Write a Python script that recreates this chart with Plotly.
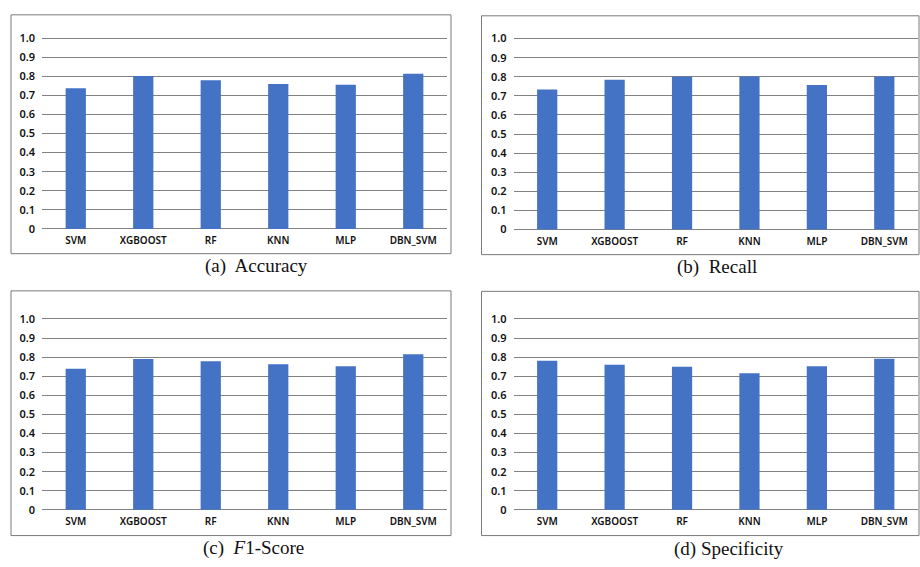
import plotly.graph_objects as go

# Model comparison across four evaluation metrics
models = ["SVM", "XGBOOST", "RF", "KNN", "MLP", "DBN_SVM"]
accuracy = [0.737, 0.801, 0.779, 0.759, 0.755, 0.813]
recall = [0.733, 0.784, 0.800, 0.801, 0.757, 0.801]
f1_score = [0.739, 0.790, 0.778, 0.763, 0.752, 0.815]
specificity = [0.781, 0.760, 0.749, 0.715, 0.752, 0.791]

y_tick_vals = [0, 0.1, 0.2, 0.3, 0.4, 0.5, 0.6, 0.7, 0.8, 0.9, 1.0]
y_tick_text = ["0", "0.1", "0.2", "0.3", "0.4", "0.5", "0.6", "0.7", "0.8", "0.9", "1.0"]
captions = ["(a)  Accuracy", "(b)  Recall", "(c)  <i>F</i>1-Score", "(d) Specificity"]

W, H = 920, 567
BAR_COLOR = "#4472C4"
GRID_COLOR = "#828282"
BOX_COLOR = "#7a7a7a"


def px_x(x):
    return x / W


def px_y(y):
    return 1 - y / H


# pixel geometry of each panel: plot left/right, y of value 0, frame box, caption centre
panels = [
    dict(data=accuracy, left=42, right=447, y0=226.7, box=(11, 8, 451, 252), cap=(256, 265)),
    dict(data=recall, left=513.5, right=918, y0=227.3, box=(481.5, 9, 919, 253), cap=(717, 266)),
    dict(data=f1_score, left=42, right=447, y0=513.7, box=(11, 290, 451, 540), cap=(253, 553)),
    dict(data=specificity, left=513.5, right=918, y0=513.7, box=(481.5, 290.5, 919, 540), cap=(729, 554)),
]
UNIT = 195.0
LO, HI = -0.008, 1.008

fig = go.Figure()
shapes = []
annotations = []
layout_axes = {}

for i, p in enumerate(panels, start=1):
    xa = "x" if i == 1 else f"x{i}"
    ya = "y" if i == 1 else f"y{i}"
    fig.add_trace(go.Bar(
        x=models, y=p["data"], xaxis=xa, yaxis=ya,
        marker=dict(color=BAR_COLOR, line=dict(width=0)),
        showlegend=False, hoverinfo="x+y",
    ))
    bottom_px = p["y0"] - LO * UNIT
    top_px = p["y0"] - HI * UNIT
    xkey = "xaxis" if i == 1 else f"xaxis{i}"
    ykey = "yaxis" if i == 1 else f"yaxis{i}"
    layout_axes[xkey] = dict(
        domain=[px_x(p["left"]), px_x(p["right"])],
        anchor=ya, showgrid=False, zeroline=False, showline=False,
        ticks="", tickfont=dict(family="Noto Sans", size=10, color="#111111", weight=600),
        ticklabelstandoff=3, fixedrange=True,
    )
    layout_axes[ykey] = dict(
        domain=[px_y(bottom_px), px_y(top_px)],
        anchor=xa, range=[LO, HI], tickvals=y_tick_vals, ticktext=y_tick_text,
        showgrid=True, gridcolor=GRID_COLOR, gridwidth=1.4,
        zeroline=False, showline=False, ticks="",
        tickfont=dict(family="Noto Sans", size=11, color="#111111", weight=600),
        ticklabelstandoff=6, fixedrange=True,
    )
    bx0, by0, bx1, by1 = p["box"]
    shapes.append(dict(
        type="rect", xref="paper", yref="paper",
        x0=px_x(bx0), x1=px_x(bx1), y0=px_y(by1), y1=px_y(by0),
        line=dict(color=BOX_COLOR, width=1), fillcolor="rgba(0,0,0,0)", layer="below",
    ))
    cx, cy = p["cap"]
    annotations.append(dict(
        text=captions[i - 1], xref="paper", yref="paper",
        x=px_x(cx), y=px_y(cy), xanchor="center", yanchor="middle",
        showarrow=False, font=dict(family="Liberation Serif", size=19, color="#111111"),
    ))

fig.update_layout(
    width=W, height=H,
    margin=dict(l=0, r=0, t=0, b=0),
    paper_bgcolor="white", plot_bgcolor="rgba(0,0,0,0)",
    bargap=0.7,
    shapes=shapes, annotations=annotations,
    **layout_axes,
)

fig.write_html("out.html")
